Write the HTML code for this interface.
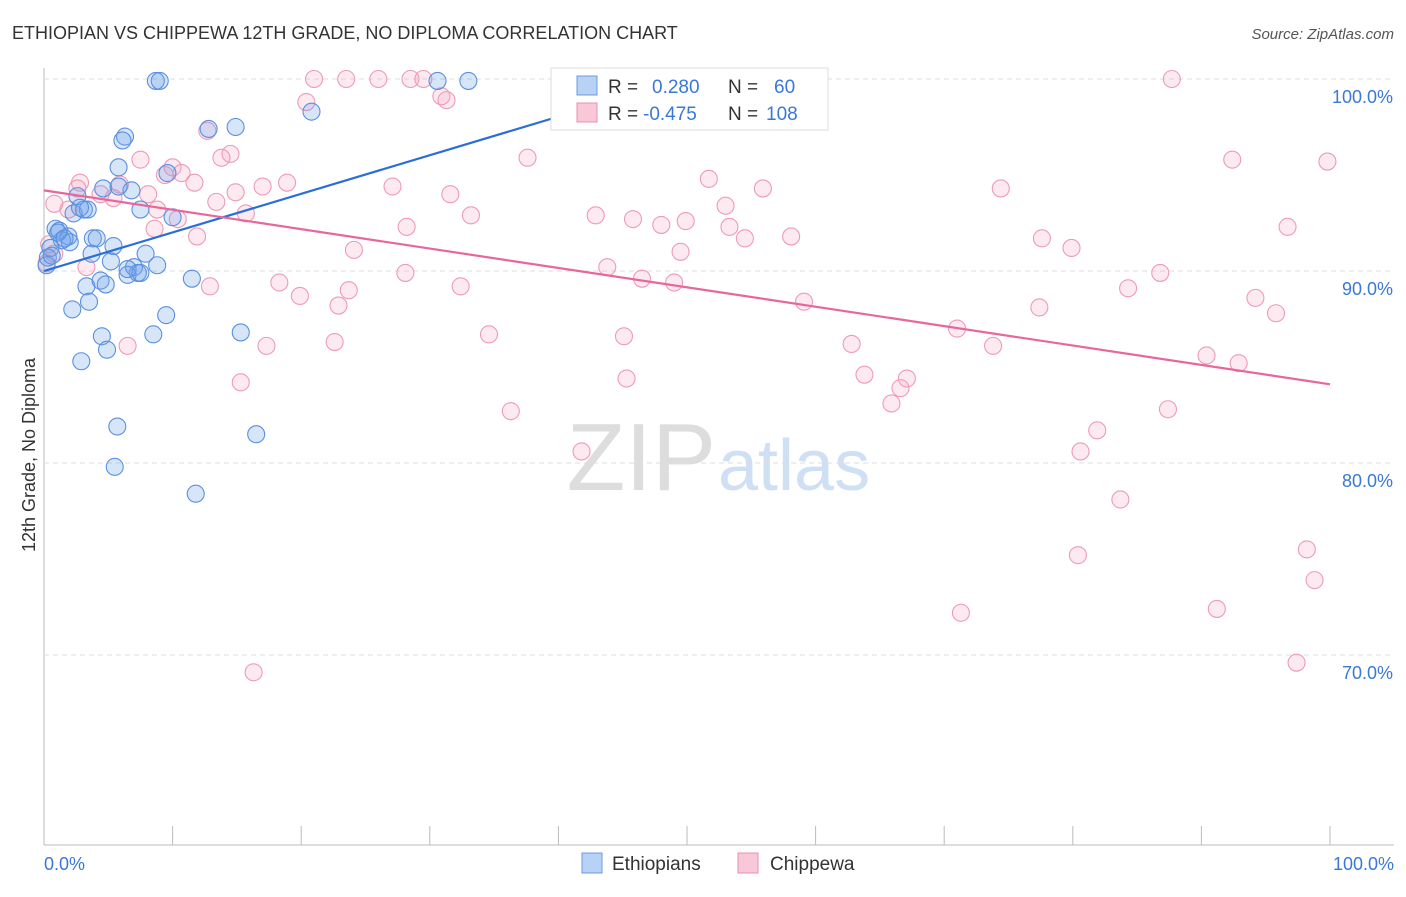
<!DOCTYPE html>
<html><head><meta charset="utf-8"><style>
body{margin:0;background:#fff;font-family:"Liberation Sans",sans-serif;}
svg text{font-family:"Liberation Sans",sans-serif;}
</style></head><body>
<svg id="chart" width="1406" height="892" xmlns="http://www.w3.org/2000/svg">
<text x="12" y="39" font-size="18" fill="#333">ETHIOPIAN VS CHIPPEWA 12TH GRADE, NO DIPLOMA CORRELATION CHART</text>
<text x="1394" y="39" font-size="15" fill="#555" text-anchor="end" font-style="italic">Source: ZipAtlas.com</text>
<text transform="translate(35,455) rotate(-90)" font-size="18" fill="#333" text-anchor="middle">12th Grade, No Diploma</text>
<text x="716" y="490" font-size="96" fill="#ddd" text-anchor="end" font-family="Liberation Serif">ZIP</text>
<text x="718" y="490" font-size="72" fill="#cfe0f5">atlas</text>
<g id="grid"></g><g id="marks"></g>
<g>
<rect x="551" y="68" width="277" height="62" fill="#fff" stroke="#ddd"/>
<rect x="577" y="76" width="20" height="19" fill="#b8d2f5" stroke="#6a9be0"/>
<text x="608" y="93" font-size="19" fill="#333">R = </text><text x="652" y="93" font-size="19" fill="#3a78d8">0.280</text>
<text x="728" y="93" font-size="19" fill="#333">N = </text><text x="774" y="93" font-size="19" fill="#3a78d8">60</text>
<rect x="577" y="103" width="20" height="19" fill="#f8c8d8" stroke="#e890b0"/>
<text x="608" y="120" font-size="19" fill="#333">R = </text><text x="643" y="120" font-size="19" fill="#3a78d8">-0.475</text>
<text x="728" y="120" font-size="19" fill="#333">N = </text><text x="766" y="120" font-size="19" fill="#3a78d8">108</text>
</g>
<g>
<rect x="582" y="853" width="20" height="20" fill="#b8d2f5" stroke="#6a9be0"/>
<text x="612" y="870" font-size="19" fill="#333">Ethiopians</text>
<rect x="738" y="853" width="20" height="20" fill="#f8c8d8" stroke="#e890b0"/>
<text x="770" y="870" font-size="19" fill="#333">Chippewa</text>
</g>
</svg>
<script>
const yTicks=[100,90,80,70];
const xTickLabels=["0.0%","100.0%"];
const blueX=[8.7,9.0,30.6,33.0,20.8,12.8,14.9,6.3,6.1,5.8,9.6,4.6,6.8,2.6,5.8,7.5,10.0,3.1,3.4,2.3,0.9,1.2,1.9,1.4,2.0,3.8,4.1,5.4,7.9,3.7,0.5,0.3,0.2,5.2,8.8,7.0,7.3,6.5,6.5,11.5,3.3,4.4,4.8,3.5,2.2,9.5,4.5,8.5,15.3,4.9,2.9,5.7,16.5,5.5,11.8,0.6,1.1,1.6,2.8,7.5];
const blueY=[99.9,99.9,99.9,99.9,98.3,97.4,97.5,97.0,96.8,95.4,95.1,94.3,94.2,93.9,94.4,93.2,92.8,93.2,93.2,93.0,92.2,92.1,91.8,91.6,91.5,91.7,91.7,91.3,90.9,90.9,91.2,90.7,90.3,90.5,90.3,90.2,89.9,89.8,90.1,89.6,89.2,89.5,89.3,88.4,88.0,87.7,86.6,86.7,86.8,85.9,85.3,81.9,81.5,79.8,78.4,90.8,92.0,91.7,93.3,89.9];
const pinkX=[21.0,23.5,26.0,28.5,29.5,87.7,20.4,30.9,31.3,12.7,14.5,13.8,7.5,10.0,10.7,9.4,37.6,92.4,99.8,2.8,5.9,11.7,17.0,18.9,27.1,51.7,55.9,74.4,4.4,5.4,8.1,14.9,13.4,0.8,1.9,8.8,10.4,15.7,31.6,33.2,42.9,45.8,48.0,49.9,53.0,53.3,54.5,58.1,96.7,28.2,8.6,11.9,24.1,77.6,79.9,49.5,3.3,0.8,28.1,43.8,46.5,49.0,18.3,12.9,19.9,23.7,22.9,32.4,86.8,84.3,59.1,77.4,94.2,95.8,71.0,34.6,45.1,22.6,17.3,6.5,62.8,73.8,90.4,92.9,63.8,67.1,66.6,45.3,15.3,65.9,36.3,87.4,81.9,41.8,80.6,83.7,80.4,98.2,98.8,71.3,91.2,16.3,97.4,0.2,2.6,0.4];
const pinkY=[100,100,100,100,100,100,98.8,99.1,98.9,97.3,96.1,95.9,95.8,95.4,95.1,95.0,95.9,95.8,95.7,94.6,94.5,94.6,94.4,94.6,94.4,94.8,94.3,94.3,94.0,93.8,94.0,94.1,93.6,93.5,93.2,93.2,92.7,93.0,94.0,92.9,92.9,92.7,92.4,92.6,93.4,92.3,91.7,91.8,92.3,92.3,92.2,91.8,91.1,91.7,91.2,91.0,90.2,90.9,89.9,90.2,89.6,89.4,89.4,89.2,88.7,89.0,88.2,89.2,89.9,89.1,88.4,88.1,88.6,87.8,87.0,86.7,86.6,86.3,86.1,86.1,86.2,86.1,85.6,85.2,84.6,84.4,83.9,84.4,84.2,83.1,82.7,82.8,81.7,80.6,80.6,78.1,75.2,75.5,73.9,72.2,72.4,69.1,69.6,90.4,94.3,91.4];
const blueFit=[90.0,0.201,0,40];
const pinkFit=[94.2,-0.101,0,100];
const X=v=>44+v*12.86, Y=v=>79+(100-v)*19.2;
const NS="http://www.w3.org/2000/svg";
const grid=document.getElementById('grid'), marks=document.getElementById('marks');
function mk(tag,attrs,parent){const e=document.createElementNS(NS,tag);for(const k in attrs)e.setAttribute(k,attrs[k]);parent.appendChild(e);return e;}
let ax=mk('line',{x1:44,y1:68,x2:44,y2:845,stroke:'#bbb'},grid);


let bx=mk('line',{x1:44,y1:845,x2:1394,y2:845,stroke:'#bbb'},grid);


yTicks.forEach(t=>{
  let g=mk('line',{x1:44,y1:Y(t),x2:1394,y2:Y(t),stroke:'#ddd','stroke-dasharray':'5,4'},grid);
  
  
  let l=mk('text',{x:1393,y:Y(t)+24,'font-size':18,fill:'#3a78d8','text-anchor':'end'},grid);l.textContent=t.toFixed(1)+'%';
  
  
});
for(let i=0;i<=10;i++){let t=mk('line',{x1:X(i*10),y1:826,x2:X(i*10),y2:845,stroke:'#bbb'},grid);
  
  }
let x0=mk('text',{x:44,y:870,'font-size':18,fill:'#3a78d8'},grid);x0.textContent=xTickLabels[0];


let x1=mk('text',{x:1394,y:870,'font-size':18,fill:'#3a78d8','text-anchor':'end'},grid);x1.textContent=xTickLabels[1];


pinkX.forEach((v,i)=>{let c=mk('circle',{cx:X(v),cy:Y(pinkY[i]),r:8.5,fill:'rgba(244,160,190,0.22)',stroke:'#ee9ab6','stroke-width':1.1},marks);
  
  });
blueX.forEach((v,i)=>{let c=mk('circle',{cx:X(v),cy:Y(blueY[i]),r:8.5,fill:'rgba(110,160,235,0.28)',stroke:'#5a90e0','stroke-width':1.1},marks);
  
  });
[[blueFit,'#2a6fd8','ethiopian-trend-line'],[pinkFit,'#e8679a','chippewa-trend-line']].forEach(([f,col,n])=>{
  let l=mk('line',{x1:X(f[2]),y1:Y(f[0]+f[1]*f[2]),x2:X(f[3]),y2:Y(f[0]+f[1]*f[3]),stroke:col,'stroke-width':2.2},marks);
  
  
});
</script>
</body></html>
